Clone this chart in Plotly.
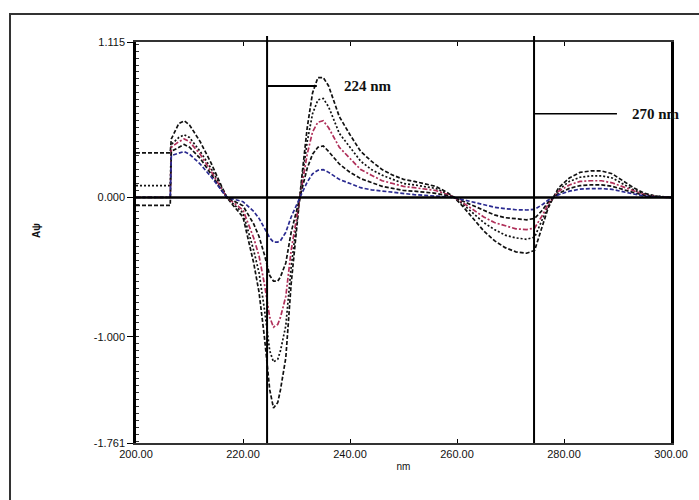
import plotly.graph_objects as go

wavelength = [200, 206, 206.4, 206.6, 208, 209, 210, 212, 214, 216, 217, 218, 220, 222, 223, 224,
              225, 225.7, 226.5, 227, 228, 229, 230, 230.5, 231, 232, 233, 234, 235, 236, 238, 240,
              242, 244, 246, 248, 250, 252, 254, 256, 258, 259.5, 261, 263, 265, 267, 269, 271,
              273, 274.5, 276, 277, 278, 279, 281, 283, 285, 287, 289, 291, 293, 295, 297, 300]

curve_a = [0.32, 0.32, 0.32, 0.42, 0.53, 0.55, 0.52, 0.40, 0.25, 0.08, 0.0, -0.05, -0.14, -0.47, -0.68, -1.0,
           -1.38, -1.51, -1.47, -1.38, -1.15, -0.62, -0.22, -0.03, 0.15, 0.50, 0.75, 0.86, 0.86, 0.80, 0.58, 0.45,
           0.33, 0.26, 0.20, 0.16, 0.13, 0.115, 0.10, 0.08, 0.04, 0.0, -0.06, -0.15, -0.24, -0.31, -0.36, -0.39,
           -0.40, -0.38, -0.20, -0.08, 0.0, 0.07, 0.14, 0.18, 0.19, 0.19, 0.17, 0.12, 0.07, 0.03, 0.01, 0.0]
curve_b = [0.085, 0.085, 0.085, 0.38, 0.43, 0.45, 0.43, 0.33, 0.21, 0.07, 0.0, -0.04, -0.11, -0.38, -0.54, -0.80,
           -1.10, -1.18, -1.16, -1.10, -0.92, -0.50, -0.18, -0.02, 0.12, 0.40, 0.60, 0.70, 0.71, 0.65, 0.46, 0.36,
           0.26, 0.20, 0.16, 0.13, 0.10, 0.09, 0.08, 0.065, 0.03, 0.0, -0.045, -0.11, -0.18, -0.23, -0.27, -0.29,
           -0.30, -0.285, -0.16, -0.065, 0.0, 0.055, 0.115, 0.145, 0.155, 0.155, 0.14, 0.10, 0.055, 0.025, 0.01, 0.0]
curve_c = [0.0, 0.0, 0.0, 0.36, 0.40, 0.42, 0.40, 0.31, 0.19, 0.06, 0.0, -0.03, -0.09, -0.29, -0.42, -0.62,
           -0.86, -0.93, -0.91, -0.86, -0.71, -0.38, -0.14, -0.02, 0.09, 0.31, 0.47, 0.54, 0.55, 0.50, 0.36, 0.28,
           0.20, 0.16, 0.12, 0.10, 0.08, 0.07, 0.06, 0.05, 0.025, 0.0, -0.035, -0.085, -0.14, -0.18, -0.205, -0.225,
           -0.23, -0.22, -0.125, -0.05, 0.0, 0.045, 0.09, 0.115, 0.12, 0.12, 0.105, 0.075, 0.045, 0.02, 0.005, 0.0]
curve_d = [-0.057, -0.057, -0.057, 0.33, 0.36, 0.38, 0.36, 0.28, 0.17, 0.05, 0.0, -0.02, -0.06, -0.19, -0.28, -0.41,
           -0.56, -0.60, -0.60, -0.57, -0.47, -0.25, -0.09, -0.01, 0.06, 0.21, 0.31, 0.36, 0.37, 0.33, 0.24, 0.18,
           0.135, 0.105, 0.08, 0.065, 0.05, 0.045, 0.04, 0.03, 0.015, 0.0, -0.025, -0.06, -0.095, -0.125, -0.145, -0.155,
           -0.16, -0.15, -0.09, -0.035, 0.0, 0.03, 0.065, 0.085, 0.09, 0.09, 0.08, 0.055, 0.035, 0.015, 0.005, 0.0]
curve_e = [0.0, 0.0, 0.0, 0.30, 0.32, 0.33, 0.31, 0.24, 0.15, 0.045, 0.0, -0.01, -0.03, -0.10, -0.15, -0.22,
           -0.29, -0.32, -0.32, -0.31, -0.25, -0.14, -0.05, -0.005, 0.03, 0.11, 0.17, 0.195, 0.20, 0.18, 0.13, 0.10,
           0.07, 0.055, 0.045, 0.035, 0.025, 0.02, 0.015, 0.01, 0.005, 0.0, -0.015, -0.035, -0.055, -0.07, -0.08, -0.088,
           -0.09, -0.085, -0.05, -0.02, 0.0, 0.02, 0.045, 0.06, 0.064, 0.064, 0.058, 0.04, 0.025, 0.01, 0.003, 0.0]

x_ticks = [200, 220, 240, 260, 280, 300]
x_tick_labels = ["200.00", "220.00", "240.00", "260.00", "280.00", "300.00"]
y_ticks = [1.115, 0.0, -1.0, -1.761]
y_tick_labels = ["1.115", "0.000", "-1.000", "-1.761"]

marker_lines = [224.5, 274.4]
marker_labels = ["224 nm", "270 nm"]
marker_levels = [0.80, 0.60]
marker_ends = [233.8, 289.9]
marker_label_x = [38.5 + 200, 292.3]

series = [
    (curve_a, "#111111", "4px,2px"),
    (curve_b, "#111111", "2px,2px"),
    (curve_c, "#b0305a", "5px,2px,2px,2px"),
    (curve_d, "#111111", "4px,2px"),
    (curve_e, "#2a2a90", "4px,2px"),
]

fig = go.Figure()
for ys, col, dash in series:
    fig.add_trace(go.Scatter(x=wavelength, y=ys, mode="lines",
                             line=dict(color=col, width=1.7, dash=dash),
                             showlegend=False, hoverinfo="skip"))

shapes = []
# outer frame
shapes.append(dict(type="rect", xref="paper", yref="paper", x0=-0.2355, x1=1.06, y0=-0.145, y1=1.0698,
                   line=dict(color="#333333", width=2)))
# zero line
shapes.append(dict(type="line", xref="x", yref="y", x0=200, x1=300, y0=0, y1=0,
                   line=dict(color="black", width=2.5)))
for xv, lvl, xe in zip(marker_lines, marker_levels, marker_ends):
    shapes.append(dict(type="line", xref="x", yref="paper", x0=xv, x1=xv, y0=0, y1=1.015,
                       line=dict(color="black", width=2)))
    shapes.append(dict(type="line", xref="x", yref="y", x0=xv, x1=xe, y0=lvl, y1=lvl,
                       line=dict(color="black", width=1.5 if xv > 250 else 2)))

annotations = []
for lab, lvl, lx in zip(marker_labels, marker_levels, marker_label_x):
    annotations.append(dict(x=lx, y=lvl, xref="x", yref="y", text="<b>" + lab + "</b>",
                            showarrow=False, xanchor="left", yanchor="middle",
                            font=dict(family="Liberation Serif", size=15, color="#111111")))
annotations.append(dict(x=-0.2, y=0.53, xref="paper", yref="paper", text="<b>Aψ</b>", textangle=-90,
                        showarrow=False, font=dict(family="Liberation Sans", size=10, color="#111111")))

fig.update_layout(
    width=699, height=500,
    margin=dict(l=136, r=28, t=42, b=57),
    paper_bgcolor="white", plot_bgcolor="white",
    shapes=shapes, annotations=annotations,
    xaxis=dict(range=[200, 300], tickvals=x_ticks, ticktext=x_tick_labels,
               showgrid=False, zeroline=False, showline=True, linecolor="#333333", linewidth=1.5,
               mirror="ticks", ticks="inside", ticklen=4, tickcolor="black",
               tickfont=dict(family="Liberation Sans", size=11, color="#111111"),
               title=dict(text="nm", font=dict(family="Liberation Sans", size=10, color="#111111"), standoff=4)),
    yaxis=dict(range=[-1.761, 1.115], tickvals=y_ticks, ticktext=y_tick_labels,
               showgrid=False, zeroline=False, showline=True, linecolor="black", linewidth=2.5,
               mirror=True, ticks="outside", ticklen=6, tickcolor="black",
               minor=dict(ticks="inside", ticklen=3, dtick=0.05, tick0=0, tickcolor="#333333"),
               tickfont=dict(family="Liberation Sans", size=11, color="#111111")),
)

fig.write_html("out.html")
